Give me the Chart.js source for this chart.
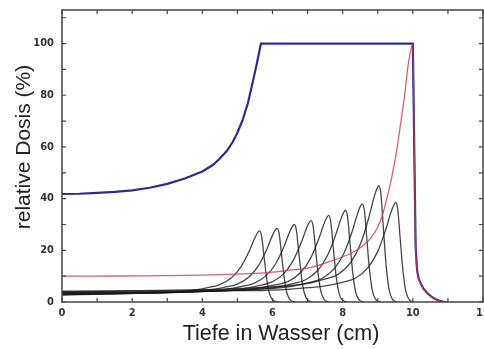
<!DOCTYPE html>
<html><head><meta charset="utf-8">
<script src="https://cdn.jsdelivr.net/npm/chart.js@4"></script>
<style>html,body{margin:0;padding:0;background:#fff;overflow:hidden}</style>
</head><body>
<canvas id="c" width="484" height="349"></canvas>
<script>
// ---- data (depth in cm, relative dose in %) ----
const xTickLabels = [0, 2, 4, 6, 8, 10, 12];
const yTickLabels = [0, 20, 40, 60, 80, 100];
const xMinorTicks = [0,1,2,3,4,5,6,7,8,9,10,11,12];
const yMinorTicks = [0,10,20,30,40,50,60,70,80,90,100,110];
const xTitle = 'Tiefe in Wasser (cm)';
const yTitle = 'relative Dosis (%)';

const sobpCurve = [[0,41.8],[0.5,41.9],[1,42.2],[1.5,42.6],[2,43.2],[2.5,44.2],[3,45.7],[3.5,47.8],[4,50.5],[4.3,53],[4.5,55.5],[4.7,58.5],[4.87,62],[5.0,65.5],[5.15,70.5],[5.3,77],[5.43,84.7],[5.55,92],[5.67,100],[10.0,100],[10.04,60],[10.08,21.5],[10.12,12.5],[10.16,9.3],[10.22,7.3],[10.3,5.2],[10.41,3.5],[10.52,2.2],[10.64,1.2],[10.76,0.5],[10.88,0.1],[11,0]];
const singlePeak = [[0,10],[1,10],[2,10.1],[3,10.2],[4,10.4],[5,10.8],[5.8,11.3],[6.5,12.3],[7,13.1],[7.7,16],[8.1,18],[8.4,20],[8.8,24.7],[9.0,29],[9.13,33.5],[9.27,40.5],[9.41,49],[9.52,57],[9.62,66],[9.76,79.5],[9.87,92],[10.0,100],[10.04,60],[10.08,21.5],[10.12,12.5],[10.16,9.3],[10.22,7.3],[10.3,5.2],[10.41,3.5],[10.52,2.2],[10.64,1.2],[10.76,0.5],[10.88,0.1],[11,0]];
const peak1 = [[0,2.7],[1.63,3.2],[2.63,3.6],[3.63,4.4],[4.13,5.5],[4.48,6.6],[4.83,9.4],[5.11,13.8],[5.35,20.1],[5.48,24.3],[5.57,26.7],[5.63,27.5],[5.69,25.5],[5.76,17.5],[5.84,8.5],[5.92,3.0],[6.02,0.6],[6.15,0]];
const peak2 = [[0,2.9],[2.13,3.3],[3.13,3.7],[4.13,4.6],[4.63,5.7],[4.98,6.8],[5.33,9.7],[5.61,14.3],[5.85,20.8],[5.98,25.2],[6.07,27.7],[6.13,28.5],[6.19,26.4],[6.26,18.1],[6.34,8.8],[6.42,3.1],[6.52,0.6],[6.65,0]];
const peak3 = [[0,3.0],[2.62,3.5],[3.62,3.9],[4.62,4.8],[5.12,6.0],[5.47,7.2],[5.82,10.2],[6.10,15.0],[6.34,21.9],[6.47,26.5],[6.56,29.1],[6.62,30],[6.68,27.8],[6.75,19.1],[6.83,9.3],[6.91,3.3],[7.01,0.7],[7.14,0]];
const peak4 = [[0,3.1],[3.1,3.6],[4.1,4.1],[5.1,5.0],[5.6,6.3],[5.95,7.6],[6.3,10.7],[6.58,15.8],[6.82,23.0],[6.95,27.9],[7.04,30.6],[7.1,31.5],[7.16,29.2],[7.23,20.0],[7.31,9.7],[7.39,3.5],[7.49,0.7],[7.62,0]];
const peak5 = [[0,3.3],[3.6,3.9],[4.6,4.4],[5.6,5.4],[6.1,6.7],[6.45,8.0],[6.8,11.4],[7.08,16.8],[7.32,24.5],[7.45,29.6],[7.54,32.5],[7.6,33.5],[7.66,31.1],[7.73,21.3],[7.81,10.4],[7.89,3.7],[7.99,0.7],[8.12,0]];
const peak6 = [[0,3.5],[4.08,4.1],[5.08,4.6],[6.08,5.7],[6.58,7.1],[6.93,8.5],[7.28,12.1],[7.56,17.8],[7.80,25.9],[7.93,31.4],[8.02,34.4],[8.08,35.5],[8.14,32.9],[8.21,22.6],[8.29,11.0],[8.37,3.9],[8.47,0.8],[8.6,0]];
const peak7 = [[0,3.7],[4.56,4.4],[5.56,4.9],[6.56,6.1],[7.06,7.6],[7.41,9.1],[7.76,12.9],[8.04,19.0],[8.28,27.7],[8.41,33.6],[8.50,36.9],[8.56,38],[8.62,35.3],[8.69,24.2],[8.77,11.8],[8.85,4.2],[8.95,0.8],[9.08,0]];
const peak8 = [[0,4.0],[5.03,5.2],[6.03,5.9],[7.03,7.2],[7.53,9.0],[7.88,10.8],[8.23,15.3],[8.51,22.5],[8.75,32.9],[8.88,39.8],[8.97,43.6],[9.03,45],[9.09,41.8],[9.16,28.6],[9.24,14.0],[9.32,5.0],[9.42,1.0],[9.55,0]];
const peak9 = [[0,4.2],[5.51,4.4],[6.51,5.0],[7.51,6.2],[8.01,7.7],[8.36,9.2],[8.71,13.1],[8.99,19.3],[9.23,28.1],[9.36,34.0],[9.45,37.3],[9.51,38.5],[9.57,35.8],[9.64,24.5],[9.72,11.9],[9.80,4.2],[9.90,0.8],[10.03,0]];
const singlePeaks = [peak1, peak2, peak3, peak4, peak5, peak6, peak7, peak8, peak9];

const toXY = arr => arr.map(p => ({x: p[0], y: p[1]}));

const datasets = [
  {data: toXY(singlePeak), borderColor: 'rgba(205,55,75,0.8)', borderWidth: 1.3, cubicInterpolationMode: 'monotone'},
  {data: toXY(sobpCurve), borderColor: '#2c2c90', borderWidth: 2.2, tension: 0},
];
singlePeaks.forEach(pk => datasets.push({data: toXY(pk), borderColor: 'rgba(25,25,25,0.8)', borderWidth: 1.3, cubicInterpolationMode: 'monotone'}));
datasets.forEach(d => { d.showLine = true; d.pointRadius = 0; d.fill = false; });

const titleFontStr = "21.5px 'Liberation Sans', Arial, sans-serif";
const yTitleFontStr = "21px 'Liberation Sans', Arial, sans-serif";

const frameTicks = {
  id: 'frameTicks',
  afterDraw(chart) {
    const {ctx, chartArea: a, scales: {x, y}} = chart;
    ctx.save();
    ctx.strokeStyle = '#444';
    ctx.lineWidth = 1.5;
    ctx.strokeRect(a.left, a.top, a.right - a.left, a.bottom - a.top);
    ctx.lineWidth = 1.2;
    ctx.beginPath();
    xMinorTicks.forEach(v => {
      const p = x.getPixelForValue(v);
      ctx.moveTo(p, a.bottom); ctx.lineTo(p, a.bottom - 4);
      ctx.moveTo(p, a.top); ctx.lineTo(p, a.top + 4);
    });
    yMinorTicks.forEach(v => {
      const p = y.getPixelForValue(v);
      ctx.moveTo(a.left, p); ctx.lineTo(a.left + 4, p);
      ctx.moveTo(a.right, p); ctx.lineTo(a.right - 4, p);
    });
    ctx.stroke();
    // axis titles
    ctx.fillStyle = '#222';
    ctx.textAlign = 'center';
    ctx.textBaseline = 'middle';
    ctx.font = titleFontStr;
    ctx.fillText(xTitle, 281, 334);
    ctx.font = yTitleFontStr;
    ctx.translate(24, 147);
    ctx.rotate(-Math.PI / 2);
    ctx.fillText(yTitle, 0, 0);
    ctx.restore();
  }
};

const tickFont = {family: "'Liberation Sans Narrow', 'DejaVu Sans Condensed', 'Liberation Sans'", size: 11, weight: 'bold'};

new Chart(document.getElementById('c'), {
  type: 'scatter',
  data: {datasets},
  plugins: [frameTicks],
  options: {
    responsive: false,
    animation: false,
    layout: {padding: {top: 10, right: 1, left: 0, bottom: 0}},
    plugins: {legend: {display: false}, tooltip: {enabled: false}},
    scales: {
      x: {
        type: 'linear', min: 0, max: 12,
        afterBuildTicks: s => { s.ticks = xTickLabels.map(v => ({value: v})); },
        afterFit: s => { s.height = 47; s.paddingLeft = 0; s.paddingRight = 0; },
        grid: {display: false, drawTicks: false},
        border: {display: false},
        ticks: {padding: 5, font: tickFont, color: '#333', maxRotation: 0, autoSkip: false}
      },
      y: {
        type: 'linear', min: 0, max: 113,
        afterBuildTicks: s => { s.ticks = yTickLabels.map(v => ({value: v})); },
        afterFit: s => { s.width = 62; s.paddingTop = 0; s.paddingBottom = 0; },
        grid: {display: false, drawTicks: false},
        border: {display: false},
        ticks: {padding: 8, font: tickFont, color: '#333', autoSkip: false}
      }
    }
  }
});
</script>
</body></html>
